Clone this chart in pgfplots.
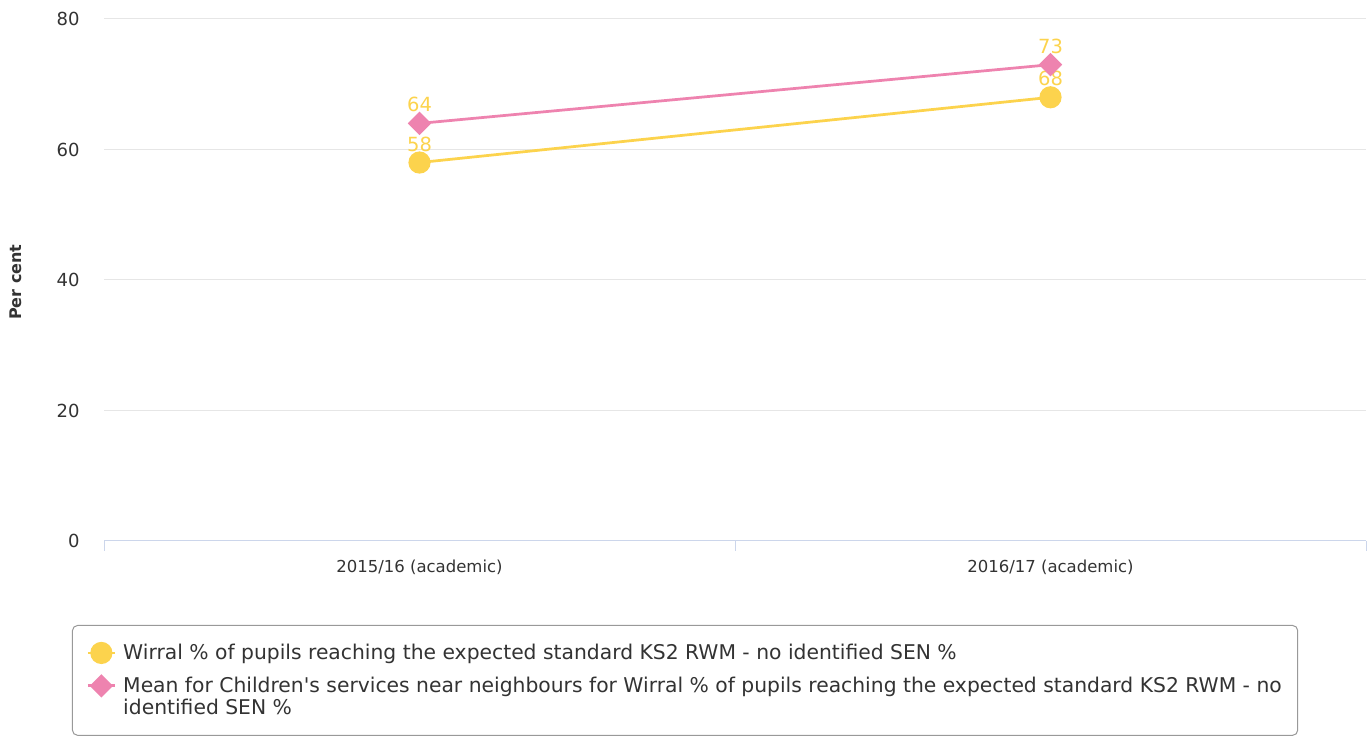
\documentclass[border=0pt]{standalone}
\usepackage{fontspec}
\setmainfont{DejaVu Sans}[Ligatures=TeXOff]
\usepackage{pgfplots}
\pgfplotsset{compat=1.18}
\definecolor{cyel}{RGB}{252,211,77}
\definecolor{cpink}{RGB}{238,131,175}
\definecolor{gridc}{RGB}{230,230,230}
\definecolor{axc}{RGB}{204,214,235}
\definecolor{txt}{RGB}{51,51,51}
\definecolor{legb}{RGB}{153,153,153}
\begin{document}
\begin{tikzpicture}[x=1bp,y=1bp]
\useasboundingbox (0,0) rectangle (1372,736);
\begin{axis}[
  at={(104bp,195bp)}, anchor=south west,
  scale only axis, width=1262bp, height=522bp,
  xmin=-0.5, xmax=1.5, ymin=0, ymax=80,
  xtick={-0.5,0.5,1.5}, xticklabels={},
  extra x ticks={0,1}, extra x tick labels={2015/16 (academic),2016/17 (academic)},
  extra x tick style={tick style={draw=none}, grid=none},
  major tick length=10bp,
  major x tick style={axc, line width=1bp},
  ytick={0,20,40,60,80},
  ymajorgrids, grid style={gridc, line width=1bp},
  axis x line*=bottom, axis y line*=left,
  x axis line style={axc, line width=1bp, -},
  y axis line style={draw=none},
  major y tick style={draw=none},
  tick align=outside,
  xticklabel style={font=\fontsize{16.5bp}{20bp}\selectfont, text=txt, yshift=-5bp},
  yticklabel style={font=\fontsize{18bp}{22bp}\selectfont, text=txt, anchor=east, xshift=-11bp},
  /pgf/number format/assume math mode=true,
  ylabel={Per cent},
  every axis y label/.style={at={(axis description cs:-0.0697,0.496)}, rotate=90, anchor=center, font=\fontsize{16bp}{20bp}\selectfont\bfseries, text=txt},
  nodes near coords,
  every node near coord/.append style={anchor=base, yshift=11.5bp, font=\fontsize{19.5bp}{22bp}\selectfont, text=cyel},
  legend cell align=left,
  legend style={at={(-0.02536,-0.1609)}, anchor=north west, draw=legb, rounded corners=5bp, line width=1bp,
    font=\fontsize{20.3bp}{22bp}\selectfont, text=txt, nodes={align=left},
    row sep=12bp, column sep=5bp, inner xsep=14bp, inner ysep=17bp},
  legend image code/.code={\draw[mark repeat=2,mark phase=2] plot coordinates {(0bp,0bp) (13.5bp,0bp) (27bp,0bp)};},
]
\addplot[cyel, line width=2.75bp, mark=*, mark size=9.7bp, mark options={solid}] coordinates {(0,58) (1,68)};
\addlegendentry{Wirral \% of pupils reaching the expected standard KS2 RWM - no identified SEN \%}
\addplot[cpink, line width=2.75bp, mark=square*, mark size=6.9bp, mark options={solid, rotate=45},
  legend image code/.code={\path[draw=none,fill=none] (0bp,-21bp) -- (0bp,21bp); \draw[mark repeat=2,mark phase=2] plot coordinates {(0bp,11bp) (13.5bp,11bp) (27bp,11bp)};}] coordinates {(0,64) (1,73)};
\addlegendentry{Mean for Children's services near neighbours for Wirral \% of pupils reaching the expected standard KS2 RWM - no\\identified SEN \%}
\end{axis}
\end{tikzpicture}
\end{document}
